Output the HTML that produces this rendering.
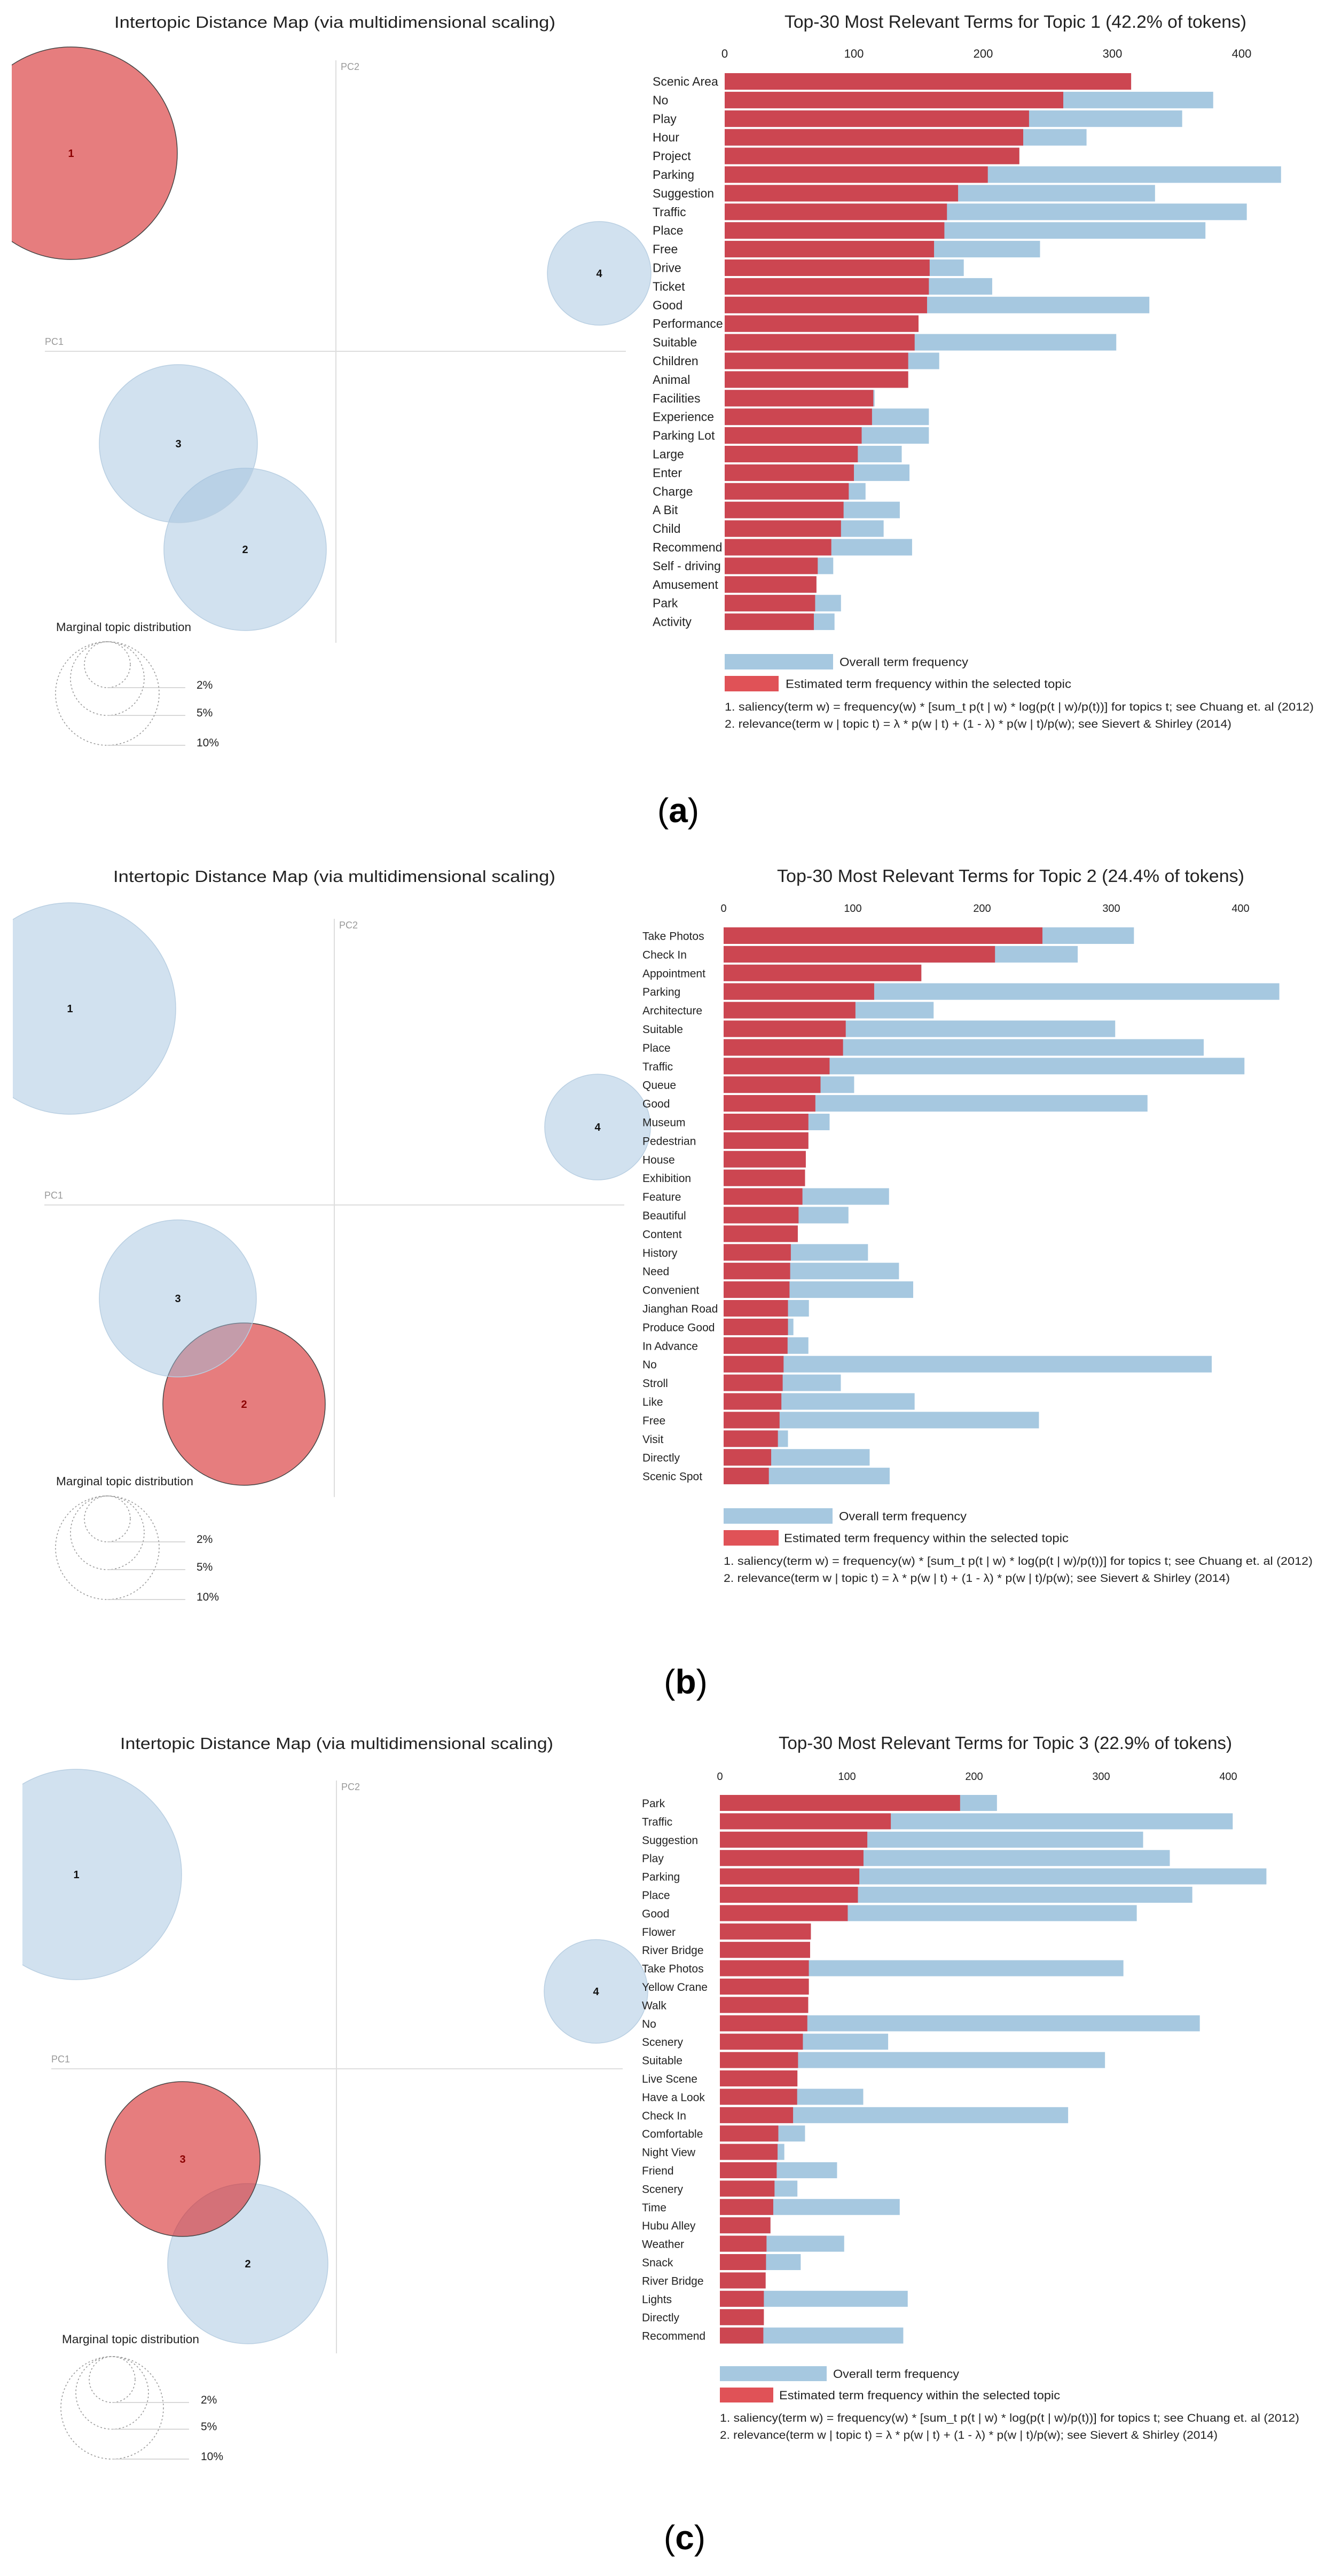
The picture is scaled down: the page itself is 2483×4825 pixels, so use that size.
<!DOCTYPE html>
<html><head><meta charset="utf-8"><title>LDAvis topics</title>
<style>
html,body{margin:0;padding:0;background:#fff;}
svg{display:block;}
text{font-family:"Liberation Sans",sans-serif;}
</style></head>
<body>
<svg id="fig" width="2483" height="4825" viewBox="0 0 2483 4825" xmlns="http://www.w3.org/2000/svg">
<rect x="0" y="0" width="2483" height="4825" fill="#fff"/>
</svg>
<script>
// ---------- DATA ----------
const termsA = ["Scenic Area"," No","Play","Hour","Project","Parking","Suggestion","Traffic","Place","Free","Drive","Ticket","Good","Performance","Suitable","Children","Animal","Facilities","Experience","Parking Lot","Large","Enter","Charge"," A Bit","Child","Recommend","Self - driving","Amusement","Park","Activity"];
const redA = [314.5,262,235.5,231,228,203.6,180.6,172,170,162,158.6,158,156.6,150,147,142,142,115,114,106,103,100,96,92,90,82.5,72,71,70,69];
const blueA = [314.5,378,354,280,228,430.5,333,404,372,244,185,207,328.6,150,303,166,142,116,158,158,137,143,109,135.5,123,145,84,71,90,85];

const termsB = ["Take Photos","Check In","Appointment","Parking","Architecture","Suitable","Place","Traffic","Queue","Good","Museum","Pedestrian","House","Exhibition","Feature","Beautiful","Content","History","Need","Convenient","Jianghan Road"," Produce Good","In Advance","No","Stroll","Like","Free","Visit","Directly","Scenic Spot"];
const redB = [246.7,210,153,116.5,102,94.5,92.4,82,75,71,65.6,65.6,63.6,63,61,58,57.4,52,51.5,51,49.8,49.8,49.5,46.4,45.7,44.7,43.3,42,36.8,35];
const blueB = [317.5,274,153,430,162.5,303,371.5,403,101,328,82,65.6,63.6,63,128,96.6,57.4,111.7,135.7,146.7,66,54,65.6,377.7,90.7,147.8,244,49.8,113,128.5];

const termsC = ["Park","Traffic","Suggestion","Play","Parking","Place","Good","Flower","River Bridge","Take Photos","Yellow Crane","Walk","No","Scenery","Suitable","Live Scene","Have a Look","Check In","Comfortable","Night View","Friend","Scenery","Time","Hubu Alley","Weather","Snack","River Bridge","Lights","Directly","Recommend"];
const redC = [189,134.5,116,113,109.7,108.6,100.6,71.6,71,70,70,69.5,68.8,65.3,61.5,61,60.8,57.6,46,45.4,44.7,43,42,39.8,36.7,36.3,36,34.6,34.6,34.2];
const blueC = [218,403.5,333,354,430,371.7,328,71.6,71,317.5,70,69.5,377.6,132.4,303,61,112.8,274,67,50.7,92.2,61,141.5,39.8,97.8,63.6,36,147.8,34.6,144.3];

const tickValues = [0,100,200,300,400];
const chartTitles = ["Top-30 Most Relevant Terms for Topic 1 (42.2% of tokens)","Top-30 Most Relevant Terms for Topic 2 (24.4% of tokens)","Top-30 Most Relevant Terms for Topic 3 (22.9% of tokens)"];
const selectedTopic = [1,2,3];
const marginalLabels = ["2%","5%","10%"];

// ---------- LAYOUT ----------
const NS="http://www.w3.org/2000/svg";
const svg=document.getElementById('fig');
function mk(tag,attrs,parent,txt){const e=document.createElementNS(NS,tag);for(const k in attrs)e.setAttribute(k,attrs[k]);if(txt!==undefined)e.textContent=txt;(parent||svg).appendChild(e);return e;}

const RED="#cc4651",BLUE="#a6c8e0";
const panels=[
 {terms:termsA,red:redA,blue:blueA,narrow:true,x0:1357,ppu:2.42,tickY:108,barTop:137,pitch:34.9,barH:31,labelX:1222,
  titleY:52,titleX1:1469,titleX2:2334,leg:{bx:1357,by:1225,bw:203,rx:1357,ry:1266,rw:101,h:29,t1x:1572,t1w:241,t2x:1471,t2w:535,f1:1331,f2:1363,f1w:1103,f2w:949},
  L:{titleY:52,tx1:214,tx2:1040,clipX:22,pc2x:629,pc2y1:113,pc2y2:1204,pc1y:658,pc1x1:84,pc1x2:1172,
     c:[[133,287,199],[459,1029,152],[334,831,148],[1122,512,97]],mx:105,my:1182,lcx:201,ltop:1202,lr:[43,69,97],lineEnd:347,labX:368},
  tag:"(a)",tagX:1270,tagY:1540},
 {terms:termsB,red:redB,blue:blueB,narrow:false,x0:1355,ppu:2.42,tickY:1708,barTop:1737,pitch:34.9,barH:31,labelX:1203,
  titleY:1652,titleX1:1455,titleX2:2330,leg:{bx:1355,by:2825,bw:204,rx:1355,ry:2866,rw:103,h:29,t1x:1571,t1w:239,t2x:1468,t2w:533,f1:2931,f2:2963,f1w:1103,f2w:948},
  L:{titleY:1652,tx1:212,tx2:1040,clipX:24,pc2x:626,pc2y1:1721,pc2y2:2804,pc1y:2257,pc1x1:83,pc1x2:1169,
     c:[[131,1889,198],[457,2630,152],[333,2432,147],[1119,2111,99]],mx:105,my:2782,lcx:201,ltop:2802,lr:[43,69,97],lineEnd:347,labX:368},
  tag:"(b)",tagX:1284,tagY:3172},
 {terms:termsC,red:redC,blue:blueC,narrow:false,x0:1348,ppu:2.38,tickY:3334,barTop:3362,pitch:34.4,barH:30,labelX:1202,
  titleY:3276,titleX1:1458,titleX2:2307,leg:{bx:1348,by:4432,bw:200,rx:1348,ry:4472,rw:100,h:28,t1x:1560,t1w:236,t2x:1459,t2w:526,f1:4536,f2:4568,f1w:1085,f2w:932},
  L:{titleY:3276,tx1:225,tx2:1036,clipX:42,pc2x:630,pc2y1:3335,pc2y2:4408,pc1y:3875,pc1x1:96,pc1x2:1166,
     c:[[143,3511,197],[464,4240,150],[342,4044,145],[1116,3730,97]],mx:116,my:4389,lcx:210,ltop:4414,lr:[43,68,96],lineEnd:354,labX:376},
  tag:"(c)",tagX:1282,tagY:4775}
];

panels.forEach((p,pi)=>{
  const fam = p.narrow ? '"Liberation Sans Narrow","Liberation Sans",sans-serif' : '"Liberation Sans",sans-serif';
  const g=mk('g',{});
  
  
  // ---- left: intertopic map ----
  const L=p.L;
  const lt=mk('text',{x:L.tx1,y:L.titleY,'font-size':31,fill:'#222',textLength:L.tx2-L.tx1,lengthAdjust:'spacingAndGlyphs','font-family':fam},g,"Intertopic Distance Map (via multidimensional scaling)");
  
  
  const clipId='clip'+pi;
  const cp=mk('clipPath',{id:clipId},g);mk('rect',{x:L.clipX,y:L.pc2y1-120,width:1200,height:1400},cp);
  const pc2=mk('line',{x1:L.pc2x,y1:L.pc2y1,x2:L.pc2x,y2:L.pc2y2,stroke:'#ddd','stroke-width':2},g);
  
  
  const pc1=mk('line',{x1:L.pc1x1,y1:L.pc1y,x2:L.pc1x2,y2:L.pc1y,stroke:'#ddd','stroke-width':2},g);
  
  
  const t1=mk('text',{x:L.pc1x1,y:L.pc1y-12,'font-size':18,fill:'#999','font-family':fam},g,"PC1");
  
  
  const t2=mk('text',{x:L.pc2x+9,y:L.pc2y1+18,'font-size':18,fill:'#999','font-family':fam},g,"PC2");
  
  
  const cg=mk('g',{'clip-path':'url(#'+clipId+')'},g);
  L.c.forEach((c,ci)=>{
    const sel=(ci+1)===selectedTopic[pi];
    const circ=mk('circle',{cx:c[0],cy:c[1],r:c[2],fill:sel?'#d62728':'#9dc0dc','fill-opacity':sel?0.6:0.47,stroke:sel?'#444':'#b9cfe2','stroke-width':sel?1.5:1.5},cg);
    
    
    const n=mk('text',{x:c[0],y:c[1]+7,'font-size':20,'font-weight':'bold','text-anchor':'middle',fill:sel?'#8b0000':'#111'},cg,String(ci+1));
    
    
  });
  const mt=mk('text',{x:L.mx,y:L.my,'font-size':22,fill:'#222','font-family':fam,textLength:p.narrow?253:257,lengthAdjust:'spacingAndGlyphs'},g,"Marginal topic distribution");
  
  
  L.lr.forEach((r,ri)=>{
    const cy=L.ltop+r;
    const dc=mk('circle',{cx:L.lcx,cy:cy,r:r,fill:'none',stroke:'#999','stroke-width':1.6,'stroke-dasharray':'3,4'},g);
    
    
    const ln=mk('line',{x1:L.lcx,y1:L.ltop+2*r,x2:L.lineEnd,y2:L.ltop+2*r,stroke:'#ccc','stroke-width':1.5},g);
    
    
    const lb=mk('text',{x:L.labX,y:L.ltop+2*r+2,'font-size':21,fill:'#222','font-family':fam},g,marginalLabels[ri]);
    
    
  });
  // ---- right: bar chart ----
  const xs=v=>p.x0+v*p.ppu;
  const ti=mk('text',{x:p.titleX1,y:p.titleY,'font-size':33,fill:'#222',textLength:p.titleX2-p.titleX1,lengthAdjust:'spacingAndGlyphs','font-family':fam},g,chartTitles[pi]);
  
  
  tickValues.forEach(tv=>{
    const tk=mk('text',{x:xs(tv),y:p.tickY,'font-size':p.narrow?22:20,fill:'#222','text-anchor':'middle','font-family':fam},g,String(tv));
    
    
  });
  p.terms.forEach((term,i)=>{
    const y=p.barTop+i*p.pitch;
    const bb=mk('rect',{x:xs(0),y:y,width:xs(p.blue[i])-xs(0),height:p.barH,fill:BLUE},g);
    
    
    const rb=mk('rect',{x:xs(0),y:y,width:xs(p.red[i])-xs(0),height:p.barH,fill:RED},g);
    
    
    const lb=mk('text',{x:p.labelX,y:y+p.barH/2+8,'font-size':p.narrow?23:21,fill:'#222','font-family':fam,'xml:space':'preserve'},g,term);
    
    
  });
  const lg=p.leg;
  const r1=mk('rect',{x:lg.bx,y:lg.by,width:lg.bw,height:lg.h,fill:BLUE},g);
  
  
  const lt1=mk('text',{x:lg.t1x,y:lg.by+lg.h/2+8,'font-size':22,fill:'#222',textLength:lg.t1w,lengthAdjust:'spacingAndGlyphs','font-family':fam},g,"Overall term frequency");
  
  
  const r2=mk('rect',{x:lg.rx,y:lg.ry,width:lg.rw,height:lg.h,fill:'#e05257'},g);
  
  
  const lt2=mk('text',{x:lg.t2x,y:lg.ry+lg.h/2+8,'font-size':22,fill:'#222',textLength:lg.t2w,lengthAdjust:'spacingAndGlyphs','font-family':fam},g,"Estimated term frequency within the selected topic");
  
  
  const f1=mk('text',{x:p.x0,y:lg.f1,'font-size':21,fill:'#222',textLength:lg.f1w,lengthAdjust:'spacingAndGlyphs','font-family':fam},g,"1. saliency(term w) = frequency(w) * [sum_t p(t | w) * log(p(t | w)/p(t))] for topics t; see Chuang et. al (2012)");
  
  
  const f2=mk('text',{x:p.x0,y:lg.f2,'font-size':21,fill:'#222',textLength:lg.f2w,lengthAdjust:'spacingAndGlyphs','font-family':fam},g,"2. relevance(term w | topic t) = \u03bb * p(w | t) + (1 - \u03bb) * p(w | t)/p(w); see Sievert & Shirley (2014)");
  
  
  const tg=mk('text',{x:p.tagX,y:p.tagY,'font-size':64,'font-family':'"Liberation Serif",serif','text-anchor':'middle',fill:'#000'},g,"");
  
  
  mk('tspan',{},tg,"(");
  mk('tspan',{'font-weight':'bold'},tg,p.tag.slice(1,2));
  mk('tspan',{},tg,")");
});
</script>
</body></html>
